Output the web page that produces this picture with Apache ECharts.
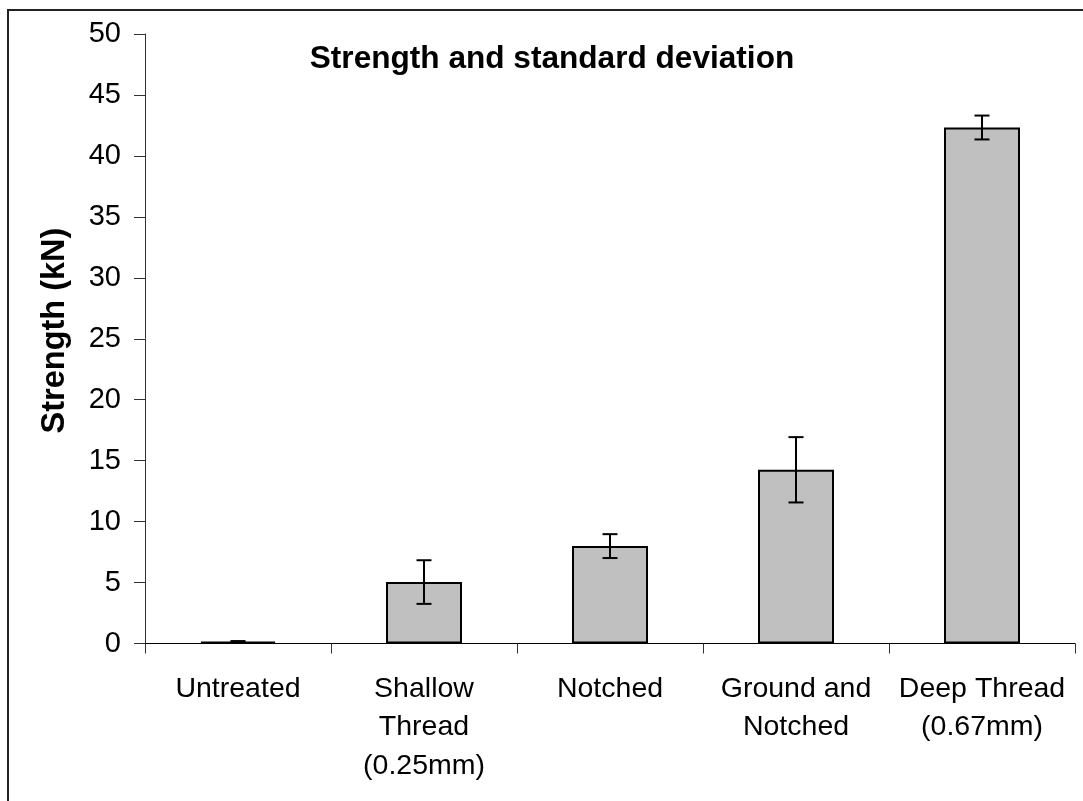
<!DOCTYPE html>
<html>
<head>
<meta charset="utf-8">
<script src="https://cdn.jsdelivr.net/npm/echarts@6/dist/echarts.min.js"></script>
<style>
  html, body { margin: 0; padding: 0; background: #fff; }
  #chart { width: 1083px; height: 801px; }
</style>
</head>
<body>
<div id="chart"></div>
<script>
const categories = ['Untreated', 'Shallow\nThread\n(0.25mm)', 'Notched', 'Ground and\nNotched', 'Deep Thread\n(0.67mm)'];
const strength = [0.15, 5.04, 7.99, 14.25, 42.33];
const stdDev = [0.05, 1.79, 0.98, 2.68, 0.98];
const yTicks = { min: 0, max: 50, interval: 5 };
const titleText = 'Strength and standard deviation';
const yName = 'Strength (kN)';

const FONT = '"Liberation Sans", Arial, sans-serif';
const errData = categories.map((c, i) => [i, strength[i] - stdDev[i], strength[i] + stdDev[i]]);

const chart = echarts.init(document.getElementById('chart'), null, { renderer: 'canvas' });
chart.setOption({
  animation: false,
  backgroundColor: '#fff',
  title: {
    text: titleText,
    left: 547,
    top: 38,
    textAlign: 'center',
    textStyle: { fontFamily: FONT, fontSize: 31.6, fontWeight: 'bold', color: '#000' }
  },
  grid: { left: 145, right: 8, top: 34, bottom: 157.5, containLabel: false },
  xAxis: {
    type: 'category',
    data: categories,
    axisLine: { show: true, lineStyle: { color: '#000', width: 1 } },
    axisTick: { show: true, length: 10, lineStyle: { color: '#333', width: 1 } },
    axisLabel: { interval: 0, fontFamily: FONT, fontSize: 28.5, lineHeight: 38.5, margin: 26, color: '#000' },
    splitLine: { show: false }
  },
  yAxis: {
    type: 'value',
    min: yTicks.min, max: yTicks.max, interval: yTicks.interval,
    axisLine: { show: true, lineStyle: { color: '#333', width: 1 } },
    axisTick: { show: true, length: 11, lineStyle: { color: '#333', width: 1 } },
    axisLabel: { fontFamily: FONT, fontSize: 29, margin: 24, color: '#000' },
    splitLine: { show: false }
  },
  graphic: [
    {
      type: 'rect',
      shape: { x: 8, y: 10, width: 1200, height: 900 },
      style: { fill: 'none', stroke: '#222', lineWidth: 2 },
      silent: true, z: -1
    },
    {
      type: 'text',
      x: 55, y: 330.5,
      rotation: Math.PI / 2,
      style: { text: yName, fontFamily: FONT, fontSize: 32.5, fontWeight: 'bold', fill: '#000', textAlign: 'center', textVerticalAlign: 'middle' }
    }
  ],
  series: [
    {
      type: 'bar',
      data: strength,
      barWidth: 76,
      itemStyle: { color: '#c0c0c0', borderColor: '#000', borderWidth: 2 },
      z: 2
    },
    {
      type: 'custom',
      data: errData,
      encode: { x: 0, y: [1, 2] },
      z: 3,
      renderItem: function (params, api) {
        const i = api.value(0);
        const lo = api.coord([i, api.value(1)]);
        const hi = api.coord([i, api.value(2)]);
        const hw = 7.5;
        const st = { stroke: '#000', lineWidth: 2 };
        return {
          type: 'group',
          children: [
            { type: 'line', shape: { x1: hi[0], y1: hi[1], x2: lo[0], y2: lo[1] }, style: st },
            { type: 'line', shape: { x1: hi[0] - hw, y1: hi[1], x2: hi[0] + hw, y2: hi[1] }, style: st },
            { type: 'line', shape: { x1: lo[0] - hw, y1: lo[1], x2: lo[0] + hw, y2: lo[1] }, style: st }
          ]
        };
      }
    }
  ]
});
</script>
</body>
</html>
